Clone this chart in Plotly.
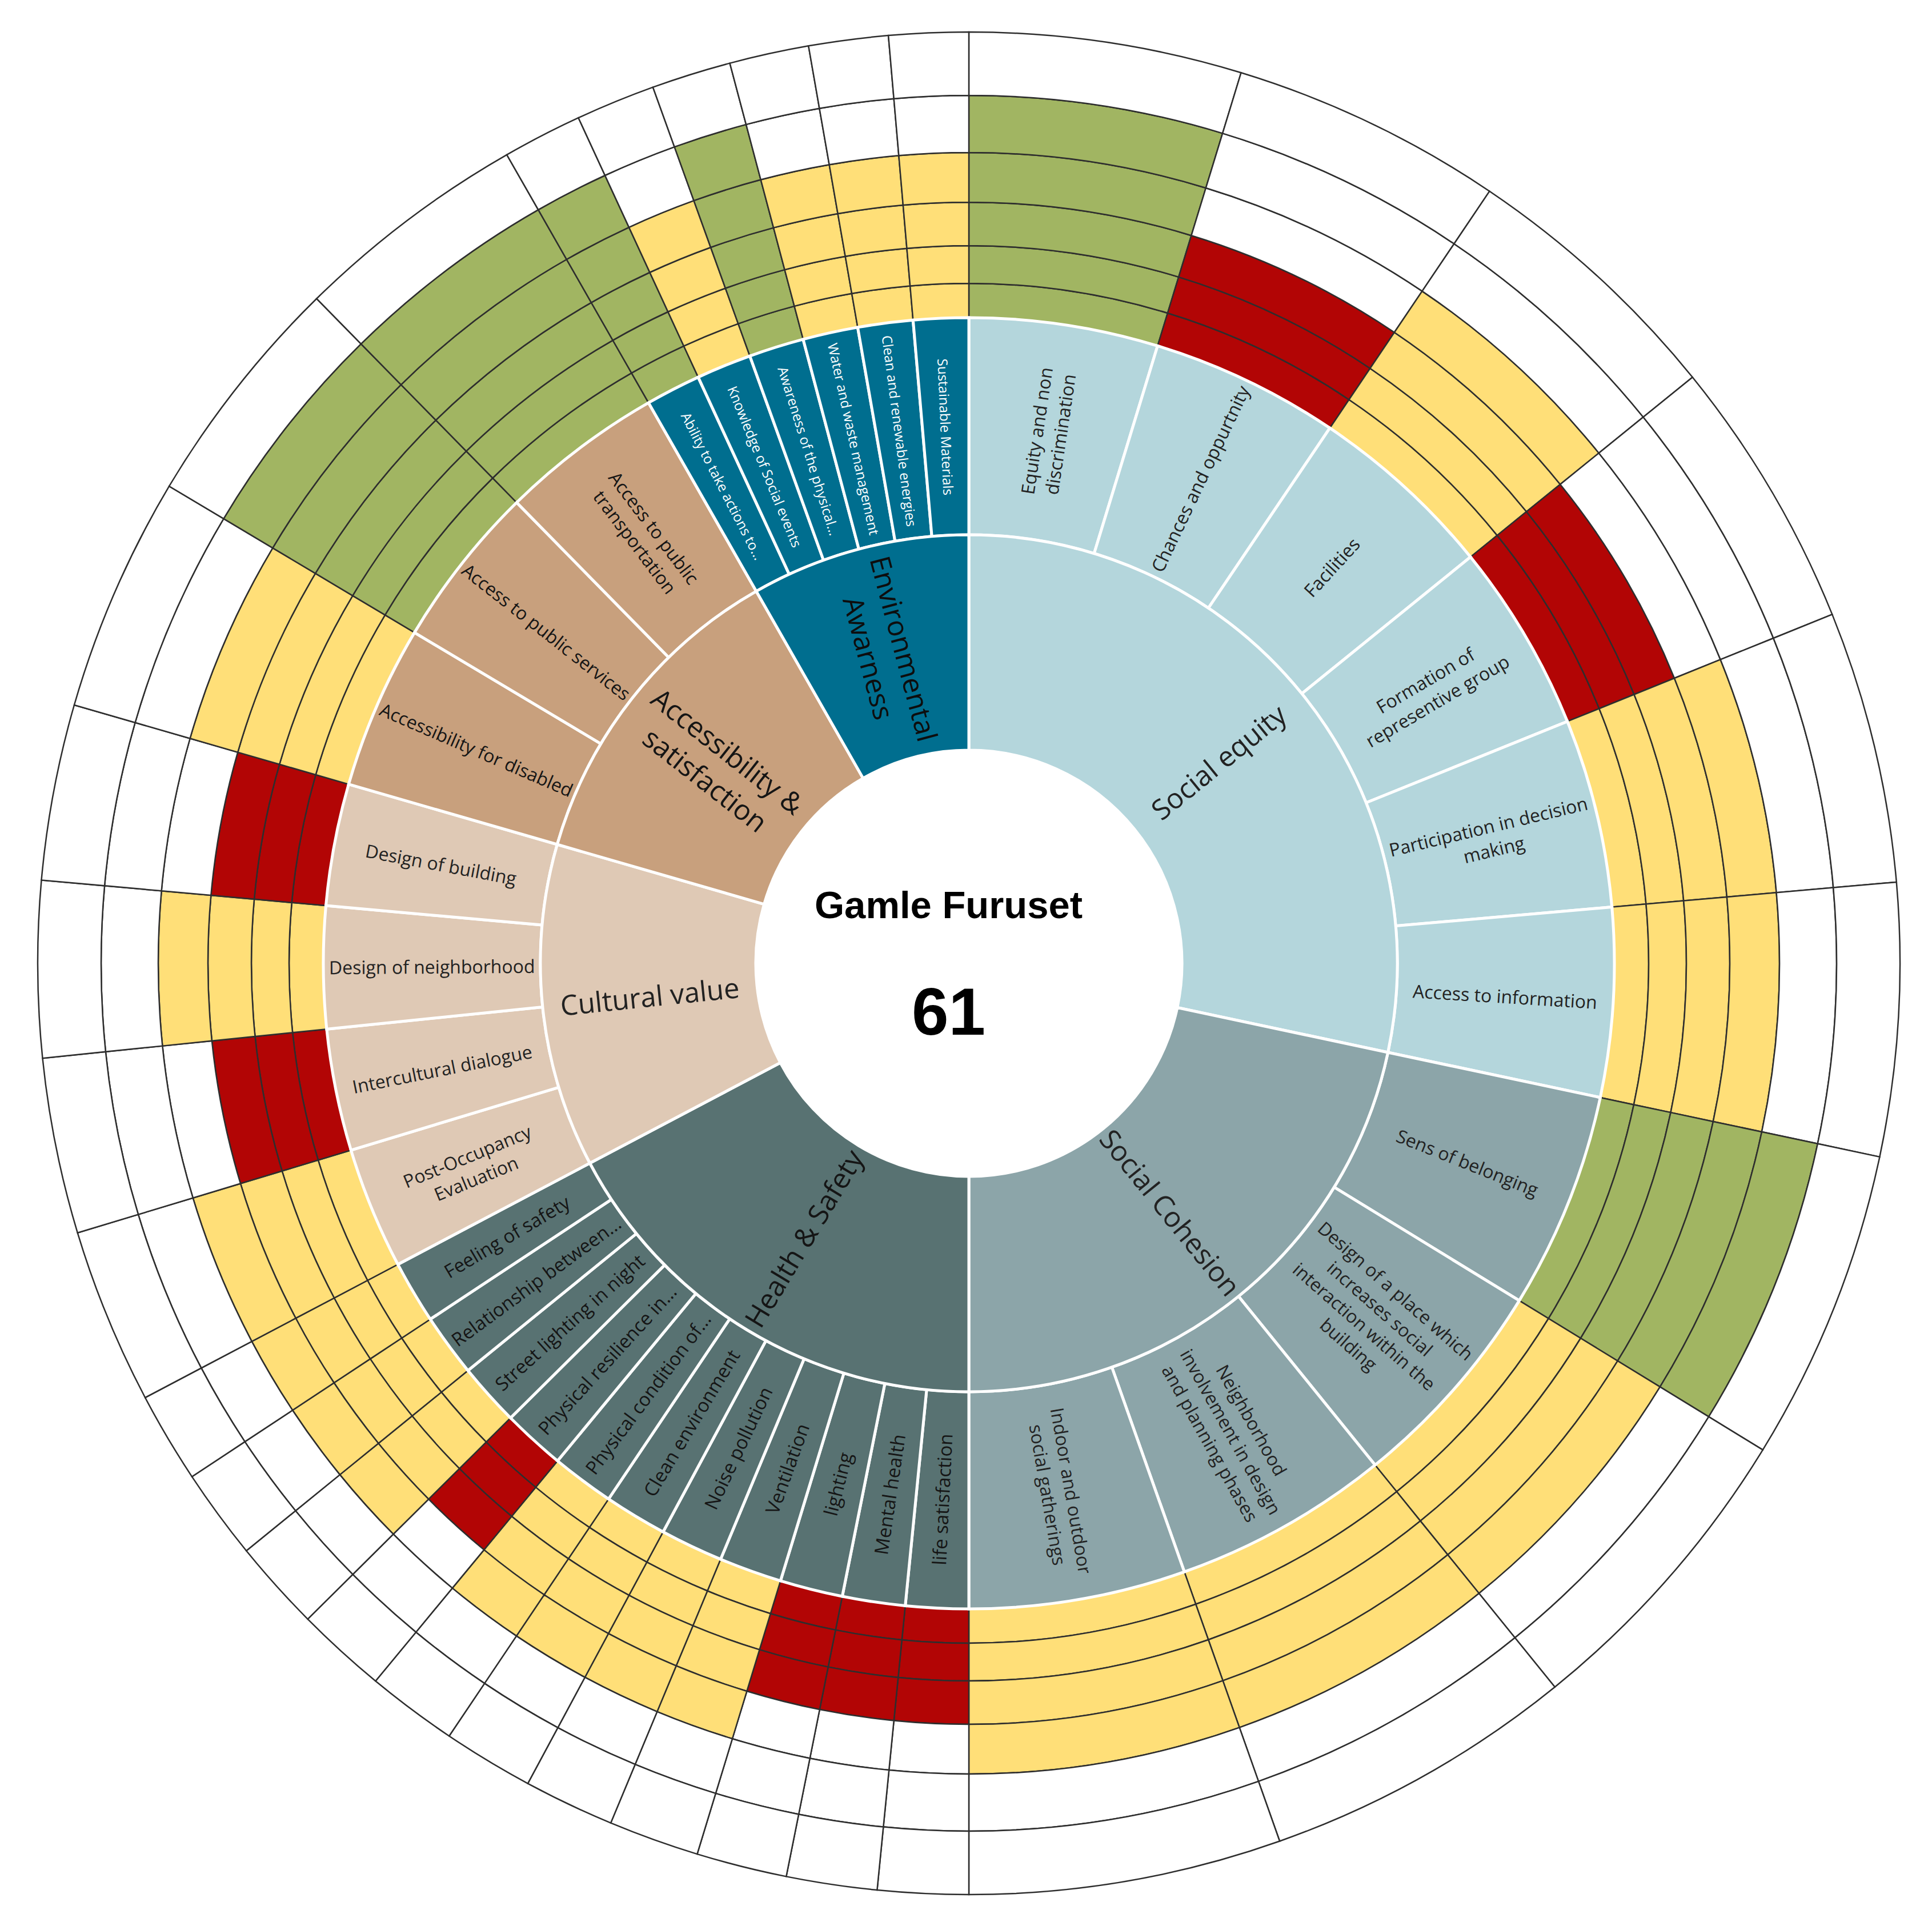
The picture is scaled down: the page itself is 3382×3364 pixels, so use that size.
import math
import plotly.graph_objects as go

# ---- data -------------------------------------------------------------
site_name = "Gamle Furuset"
site_score = 61

categories = ["Social equity", "Social Cohesion", "Health & Safety",
              "Cultural value", "Accessibility & satisfaction", "Environmental Awarness"]
category_text = ["Social equity", "Social Cohesion", "Health & Safety",
                 "Cultural value", "Accessibility &<br>satisfaction", "Environmental<br>Awarness"]
# share of the circle taken by each category (degrees, clockwise from 12 o'clock)
category_span = [102.0, 78.0, 62.2, 43.9, 44.15, 29.75]

social_equity = ["Equity and non<br>discrimination", "Chances and oppurtnity", "Facilities",
                 "Formation of<br>representive group", "Participation in decision<br>making",
                 "Access to information"]
social_equity_scores = [5, 3, 4, 3, 4, 4]

social_cohesion = ["Sens of belonging",
                   "Design of a place which<br>increases social<br>interaction within the<br>building",
                   "Neighborhood<br>involvement in design<br>and planning phases",
                   "Indoor and outdoor<br>social gatherings"]
social_cohesion_scores = [5, 4, 4, 4]

health_safety = ["life satisfaction", "Mental health", "lighting", "Ventilation",
                 "Noise pollution", "Clean environment", "Physical condition of...",
                 "Physical resilience in...", "Street lighting in night",
                 "Relationship between...", "Feeling of safety"]
health_safety_scores = [3, 3, 3, 4, 4, 4, 4, 3, 4, 4, 4]

cultural_value = ["Post-Occupancy<br>Evaluation", "Intercultural dialogue",
                  "Design of neighborhood", "Design of building"]
cultural_value_scores = [4, 3, 4, 3]

accessibility = ["Accessibility for disabled", "Access to public services",
                 "Access to public<br>transportation"]
accessibility_scores = [4, 5, 5]

environmental = ["Ability to take actions to...", "Knowledge of Social events",
                 "Awareness of the physical...", "Water and waste management",
                 "Clean and renewable energies", "Sustainable Materials"]
environmental_scores = [5, 4, 5, 4, 4, 4]

indicators = [social_equity, social_cohesion, health_safety,
              cultural_value, accessibility, environmental]
scores = [social_equity_scores, social_cohesion_scores, health_safety_scores,
          cultural_value_scores, accessibility_scores, environmental_scores]

# ---- styling / geometry -----------------------------------------------
W, H = 3382, 3364
CX, CY = 1688, 1678          # centre of the wheel in page pixels
R_AXIS = 1650                # radial axis range, in pixels
R_HOLE, R_CAT, R_IND = 373, 750, 1130
RING_EDGES = [1130, 1190, 1256, 1332, 1419, 1519, 1630]

cat_colors = ["#B4D6DC", "#8CA5A9", "#587272", "#DFC9B5", "#C8A07D", "#006E8F"]
cat_text_colors = ["#222222", "#222222", "#151515", "#222222", "#151515", "#0d0d0d"]
ind_text_colors = ["#222222", "#222222", "#151515", "#222222", "#151515", "#ffffff"]
ind_font_sizes = [32, 32, 33, 32, 32, 24]
score_colors = {3: "#B20505", 4: "#FFDF78", 5: "#A1B562"}
FONT = "Open Sans, Noto Sans, sans-serif"

# ---- angles -----------------------------------------------------------
cat_theta, cat_start = [], 0.0
ind_theta, ind_width, ind_label, ind_score, ind_cat = [], [], [], [], []
for i, span in enumerate(category_span):
    cat_theta.append(cat_start + span / 2)
    n = len(indicators[i])
    w = span / n
    for j in range(n):
        ind_theta.append(cat_start + w * (j + 0.5))
        ind_width.append(w)
        ind_label.append(indicators[i][j])
        ind_score.append(scores[i][j])
        ind_cat.append(i)
    cat_start += span

fig = go.Figure()

# score rings
for k in range(len(RING_EDGES) - 1):
    cols = [score_colors[s] if s > k else "white" for s in ind_score]
    fig.add_trace(go.Barpolar(
        theta=ind_theta, width=ind_width,
        base=[RING_EDGES[k]] * len(ind_theta),
        r=[RING_EDGES[k + 1] - RING_EDGES[k]] * len(ind_theta),
        marker=dict(color=cols, line=dict(color="#2e2e2e", width=2.5)),
        hoverinfo="skip", showlegend=False,
    ))

# indicator ring
fig.add_trace(go.Barpolar(
    theta=ind_theta, width=ind_width,
    base=[R_CAT] * len(ind_theta), r=[R_IND - R_CAT] * len(ind_theta),
    marker=dict(color=[cat_colors[c] for c in ind_cat], line=dict(color="white", width=5)),
    hoverinfo="skip", showlegend=False,
))

# category ring
fig.add_trace(go.Barpolar(
    theta=cat_theta, width=category_span,
    base=[R_HOLE] * len(categories), r=[R_CAT - R_HOLE] * len(categories),
    marker=dict(color=cat_colors, line=dict(color="white", width=5)),
    hoverinfo="skip", showlegend=False,
))


def to_paper(r, theta):
    t = math.radians(theta)
    px = CX + r * math.sin(t)
    py = CY - r * math.cos(t)
    return px / W, 1 - py / H


def radial_angle(theta):
    return theta - 90 if theta <= 180 else theta - 270


annotations = []
for i, txt in enumerate(category_text):
    x, y = to_paper((R_HOLE + R_CAT) / 2, cat_theta[i])
    annotations.append(dict(
        x=x, y=y, xref="paper", yref="paper", text=txt, showarrow=False,
        xanchor="center", yanchor="middle", align="center",
        textangle=radial_angle(cat_theta[i]),
        font=dict(family=FONT, size=49, color=cat_text_colors[i]),
    ))

for k, txt in enumerate(ind_label):
    c = ind_cat[k]
    x, y = to_paper((R_CAT + R_IND) / 2, ind_theta[k])
    annotations.append(dict(
        x=x, y=y, xref="paper", yref="paper", text=txt, showarrow=False,
        xanchor="center", yanchor="middle", align="center",
        textangle=radial_angle(ind_theta[k]),
        font=dict(family=FONT, size=ind_font_sizes[c], color=ind_text_colors[c]),
    ))

annotations.append(dict(
    x=1652 / W, y=1 - 1575 / H, xref="paper", yref="paper",
    text="<b>%s</b>" % site_name, showarrow=False, xanchor="center", yanchor="middle",
    font=dict(family="Liberation Sans, Arial, sans-serif", size=67, color="black"),
))
annotations.append(dict(
    x=1652 / W, y=1 - 1763 / H, xref="paper", yref="paper",
    text="<b>%d</b>" % site_score, showarrow=False, xanchor="center", yanchor="middle",
    font=dict(family="Liberation Sans, Arial, sans-serif", size=116, color="black"),
))

fig.update_layout(
    width=W, height=H, autosize=False,
    margin=dict(l=0, r=0, t=0, b=0, pad=0),
    paper_bgcolor="white", plot_bgcolor="white",
    polar=dict(
        domain=dict(x=[(CX - R_AXIS) / W, (CX + R_AXIS) / W],
                    y=[1 - (CY + R_AXIS) / H, 1 - (CY - R_AXIS) / H]),
        bgcolor="white", barmode="overlay", hole=0,
        radialaxis=dict(range=[0, R_AXIS], visible=False),
        angularaxis=dict(rotation=90, direction="clockwise", visible=False),
    ),
    annotations=annotations,
    showlegend=False,
)

fig.write_html("out.html")
